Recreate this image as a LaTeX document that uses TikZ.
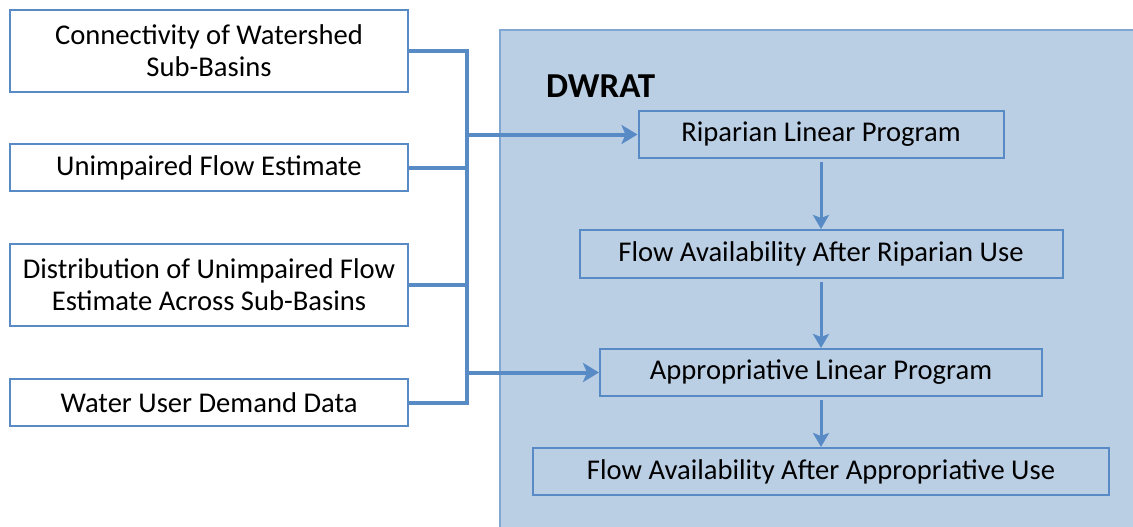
\documentclass[tikz,border=0pt]{standalone}
\usepackage{fontspec}
\setmainfont{Carlito}
\usetikzlibrary{arrows.meta,positioning}
\definecolor{flowblue}{RGB}{88,138,198}
\definecolor{panelfill}{RGB}{186,206,228}
\definecolor{panelline}{RGB}{128,166,212}
\begin{document}
\begin{tikzpicture}[x=1pt,y=1pt, node distance=50pt, every node/.style={font=\fontsize{28.6}{32}\selectfont,align=center,inner sep=0pt}, inbox/.style={draw=flowblue,line width=2pt,fill=white,minimum width=398pt,minimum height=47pt}, stepbox/.style={draw=flowblue,line width=2pt,minimum height=47pt}, bus/.style={flowblue,line width=4pt}, arr/.style={-{Stealth[length=16pt,width=19pt,inset=4pt]},flowblue,line width=4pt}, down/.style={-{Stealth[length=14pt,width=16pt,inset=3pt]},flowblue,line width=3pt,shorten <=3pt}]
\useasboundingbox (0,0) rectangle (1133,-527);
\clip (0,0) rectangle (1133,-527);
\draw[draw=panelline,fill=panelfill,line width=2pt] (500,-30) rectangle (1150,-545);
\node[font=\fontsize{35}{40}\selectfont\bfseries,anchor=base west] (dwrat) at (546,-98) {DWRAT};
% inputs
\node[inbox,minimum height=82pt] (c1) at (209,-51) {Connectivity of Watershed\\Sub-Basins};
\node[inbox,below=50pt of c1] (c2) {Unimpaired Flow Estimate};
\node[inbox,minimum height=82pt,below=51pt of c2] (c3) {Distribution of Unimpaired Flow\\Estimate Across Sub-Basins};
\node[inbox,below=51pt of c3] (c4) {Water User Demand Data};
% DWRAT steps
\node[stepbox,minimum width=365pt] (rlp) at (821,-134.5) {Riparian Linear Program};
\node[stepbox,minimum width=483pt,minimum height=48pt,below=70pt of rlp] (frp) {Flow Availability After Riparian Use};
\node[stepbox,minimum width=442pt,below=69pt of frp] (alp) {Appropriative Linear Program};
\node[stepbox,minimum width=576pt,below=50pt of alp] (fap) {Flow Availability After Appropriative Use};
% bus
\coordinate (bt) at ([xshift=58pt]c1.east);
\coordinate (bb) at ([xshift=58pt]c4.east);
\draw[bus] (c1.east) -- (bt) -- (bb) -- (c4.east);
\draw[bus] (c2.east) -- (c2.east -| bt);
\draw[bus] (c3.east) -- (c3.east -| bt);
\draw[arr] (bt |- rlp.west) -- (rlp.west);
\draw[arr] (bt |- alp.west) -- (alp.west);
\draw[down] (rlp) -- (frp);
\draw[down] (frp) -- (alp);
\draw[down] (alp) -- (fap);
\end{tikzpicture}
\end{document}
